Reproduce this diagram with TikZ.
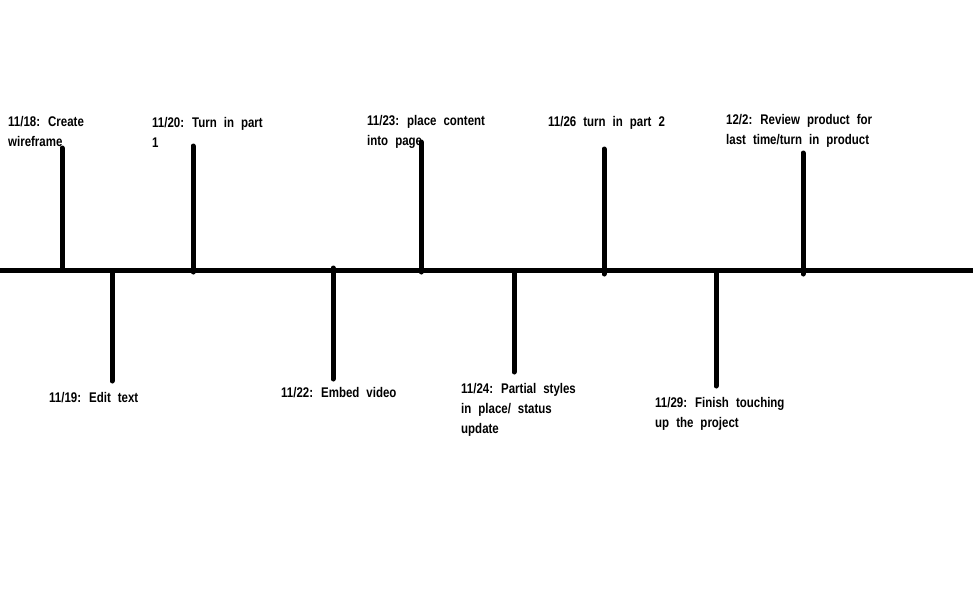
\documentclass[tikz,border=0pt]{standalone}
\usepackage{fontspec}
\setmainfont{Liberation Sans}[FakeStretch=0.82,WordSpace={2.2}]
\begin{document}
\begin{tikzpicture}[x=1pt,y=-1pt,
  bar/.style={line width=5pt,line cap=round,black},
  lbl/.style={anchor=base west,inner sep=0pt,font=\fontsize{14}{20}\selectfont\bfseries,align=left}]
\useasboundingbox[fill=white] (0,0) rectangle (973,597);
% main line
\coordinate (L) at (0,270);
\coordinate (R) at (973,270);
\draw[bar,line cap=butt] (L) -- (R);
% ticks up
\coordinate (u1a) at (62,270);  \coordinate (u1b) at (62,148);
\coordinate (u2a) at (193,272); \coordinate (u2b) at (193,146);
\coordinate (u3a) at (421,272); \coordinate (u3b) at (421,142);
\coordinate (u4a) at (604,274); \coordinate (u4b) at (604,149);
\coordinate (u5a) at (803,274); \coordinate (u5b) at (803,153);
% ticks down
\coordinate (d1a) at (112,272); \coordinate (d1b) at (112,381);
\coordinate (d2a) at (333,268); \coordinate (d2b) at (333,379);
\coordinate (d3a) at (514,272); \coordinate (d3b) at (514,372);
\coordinate (d4a) at (716,272); \coordinate (d4b) at (716,386);
\foreach \t in {u1,u2,u3,u4,u5,d1,d2,d3,d4}{\draw[bar] (\t a) -- (\t b);}
% labels (anchored at the baseline of their last line)
\node[lbl] (t1) at (8,146) {11/18: Create\\wireframe};
\node[lbl] (t2) at (152,147) {11/20: Turn in part\\1};
\node[lbl] (t3) at (367,145) {11/23: place content\\into page};
\node[lbl] (t4) at (548,126) {11/26 turn in part 2};
\node[lbl] (t5) at (726,144) {12/2: Review product for\\last time/turn in product};
\node[lbl] (b1) at (49,402) {11/19: Edit text};
\node[lbl] (b2) at (281,397) {11/22: Embed video};
\node[lbl] (b3) at (461,433) {11/24: Partial styles\\in place/ status\\update};
\node[lbl] (b4) at (655,427) {11/29: Finish touching\\up the project};
\end{tikzpicture}
\end{document}
